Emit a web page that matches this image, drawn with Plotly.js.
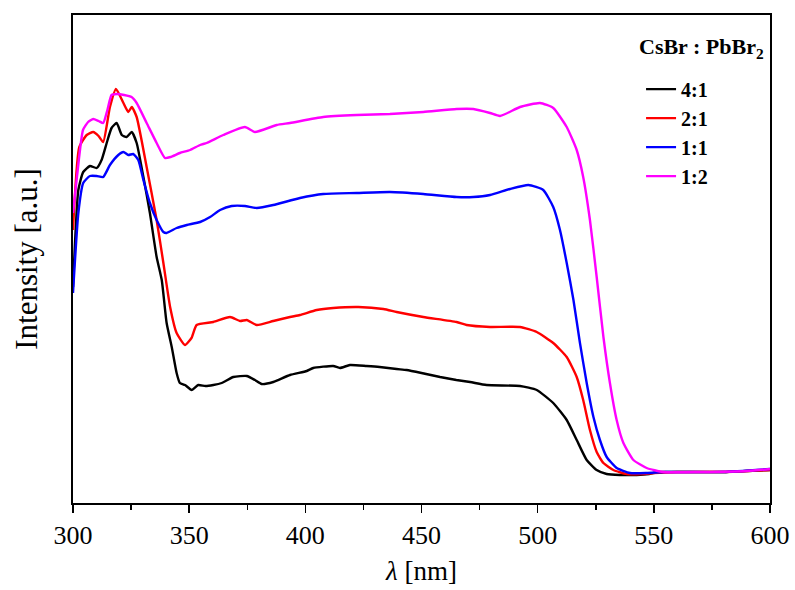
<!DOCTYPE html>
<html>
<head>
<meta charset="utf-8">
<script src="https://cdn.plot.ly/plotly-3.0.1.min.js"></script>
<style>html,body{margin:0;padding:0;background:#fff;}#chart{width:795px;height:590px;}</style>
</head>
<body>
<div id="chart"></div>
<script>
// Series names
var seriesNames = ["4:1", "2:1", "1:1", "1:2"];
var seriesColors = ["#000000", "#ff0000", "#0000ff", "#ff00ff"];
var legendTitle = "<b>CsBr : PbBr<sub>2</sub></b>";

// 4:1 (black)
var wl41 = [300,302.3,304.4,307.3,310.2,312.3,314.5,316.6,318.8,321,323.1,325.3,327.4,330.3,333.1,336,338.2,340.3,342.5,344.6,346,348.2,351.1,353.9,357,360.4,364,369,374.8,378.3,381.2,386.2,393.4,400.6,403.4,412,414.9,419.2,426.4,432,439.3,443.6,450,458,465,470.9,478,492.4,499.6,506.7,512.5,516.8,521.1,525.4,529.7,535.4,542.6,548,552,560,570,580,590,600];
var int41 = [2.16,3.13,3.31,3.37,3.35,3.43,3.60,3.75,3.80,3.68,3.66,3.71,3.60,3.26,2.90,2.46,2.23,1.80,1.56,1.30,1.20,1.18,1.13,1.18,1.17,1.18,1.20,1.26,1.27,1.23,1.19,1.21,1.28,1.32,1.35,1.37,1.35,1.38,1.37,1.36,1.34,1.33,1.30,1.26,1.23,1.21,1.18,1.17,1.13,1.00,0.83,0.63,0.43,0.33,0.29,0.28,0.28,0.29,0.31,0.31,0.31,0.31,0.32,0.33];

// 2:1 (red)
var wl21 = [300,302.7,305.9,308.7,311,313,315.9,318.5,321.7,323.8,325.3,327.4,331.7,336,338.9,341.8,344.6,348.2,351,353.2,360.4,367.6,371.9,374.8,379.1,386.2,393.4,397.7,404.9,412,422.8,433.6,439.3,450.8,465.1,469.4,479.5,492.4,499.6,506.7,512.5,516.8,519.6,522.5,525.4,528.3,532.6,538.3,545,550,560,580,600];
var int21 = [2.73,3.56,3.68,3.71,3.67,3.61,3.96,4.14,4.00,3.91,3.96,3.86,3.36,2.83,2.40,1.96,1.70,1.58,1.65,1.78,1.81,1.86,1.82,1.83,1.78,1.82,1.86,1.88,1.93,1.95,1.96,1.94,1.91,1.86,1.81,1.78,1.76,1.76,1.71,1.60,1.46,1.26,1.03,0.73,0.51,0.40,0.33,0.29,0.29,0.30,0.31,0.31,0.33];

// 1:1 (blue)
var wl11 = [300,302.3,304.4,307.3,310.2,313,315.9,319.5,321.7,323.8,325.9,328.1,330.3,333.1,336,338.9,340.3,344.6,349,354.7,359,363.3,368.3,374,379.1,386.2,397.7,407.7,422.1,436.4,450.8,465.1,472.3,479.5,488.1,496,502.4,506.7,509.6,512.5,515.4,518.2,521.1,524,526.8,529.7,534,539.7,546.9,555,580,600];
var int11 = [2.10,2.90,3.20,3.27,3.27,3.26,3.38,3.48,3.51,3.48,3.49,3.43,3.23,3.00,2.83,2.71,2.70,2.75,2.78,2.81,2.86,2.93,2.97,2.97,2.95,2.98,3.05,3.09,3.10,3.11,3.09,3.06,3.06,3.08,3.14,3.18,3.13,2.96,2.73,2.40,2.03,1.60,1.20,0.86,0.63,0.46,0.35,0.30,0.30,0.31,0.31,0.34];

// 1:2 (magenta)
var wl12 = [300,302.5,304.3,306.5,308.7,311,313,314.8,316.6,319,322,325.2,327.4,331.7,336,339.6,342,346,350.4,354.7,357.5,364.7,374,378.3,387.7,393.4,407.7,422.1,436.4,450.8,465.1,472.3,479.5,483.8,492.4,501,506.7,512.5,516.8,519.6,522.5,525.4,528.3,531.1,534,536.9,541.2,546.9,554.1,570,590,600];
var int12 = [2.90,3.43,3.73,3.81,3.84,3.82,3.80,3.93,4.08,4.09,4.08,4.06,4.00,3.80,3.60,3.45,3.46,3.50,3.53,3.58,3.60,3.68,3.76,3.71,3.78,3.80,3.86,3.88,3.89,3.91,3.94,3.94,3.90,3.87,3.96,4.00,3.95,3.76,3.53,3.26,2.83,2.26,1.66,1.20,0.83,0.60,0.43,0.35,0.31,0.31,0.32,0.34];

var xTickVals = [300,350,400,450,500,550,600];
var xTickText = ["300","350","400","450","500","550","600"];

var xs = [wl41, wl21, wl11, wl12];
var ys = [int41, int21, int11, int12];

var traces = seriesNames.map(function(n, i){
  return {
    x: xs[i], y: ys[i], name: n, type: 'scatter', mode: 'lines',
    line: {color: seriesColors[i], width: 2.4, shape: 'spline', smoothing: 0.5}
  };
});

var font = "Liberation Serif, Times New Roman, serif";
var layout = {
  width: 795, height: 590,
  margin: {l: 73, r: 25, t: 15, b: 87},
  paper_bgcolor: '#ffffff', plot_bgcolor: '#ffffff',
  font: {family: font, color: '#000'},
  showlegend: true,
  legend: {
    x: 0.815, xanchor: 'left', y: 0.888, yanchor: 'top',
    bgcolor: 'rgba(0,0,0,0)', borderwidth: 0,
    font: {family: font, size: 20, color: '#000', weight: 'bold'},
    tracegroupgap: 0
  },
  annotations: [{
    text: legendTitle, xref: 'paper', yref: 'paper',
    x: 0.9943, y: 0.932, xanchor: 'right', yanchor: 'middle', showarrow: false,
    font: {family: font, size: 22, color: '#000'}
  }],
  xaxis: {
    range: [300, 600],
    tickvals: xTickVals, ticktext: xTickText,
    ticks: 'outside', ticklen: 8, tickwidth: 1.5, tickcolor: '#000',
    minor: {dtick: 25, tick0: 300, ticks: 'outside', ticklen: 5, tickwidth: 1.5, tickcolor: '#000'},
    showline: true, linewidth: 2, linecolor: '#000', mirror: true,
    showgrid: false, zeroline: false,
    tickfont: {family: font, size: 26, color: '#000'},
    title: {text: '<i>λ</i> [nm]', font: {family: font, size: 27, color: '#000'}, standoff: 12}
  },
  yaxis: {
    range: [0, 4.88],
    showticklabels: false, ticks: '',
    showline: true, linewidth: 2, linecolor: '#000', mirror: true,
    showgrid: false, zeroline: false,
    title: {text: 'Intensity [a.u.]', font: {family: font, size: 31, color: '#000'}, standoff: 24}
  }
};

Plotly.newPlot('chart', traces, layout, {displayModeBar: false, staticPlot: true});
</script>
</body>
</html>
